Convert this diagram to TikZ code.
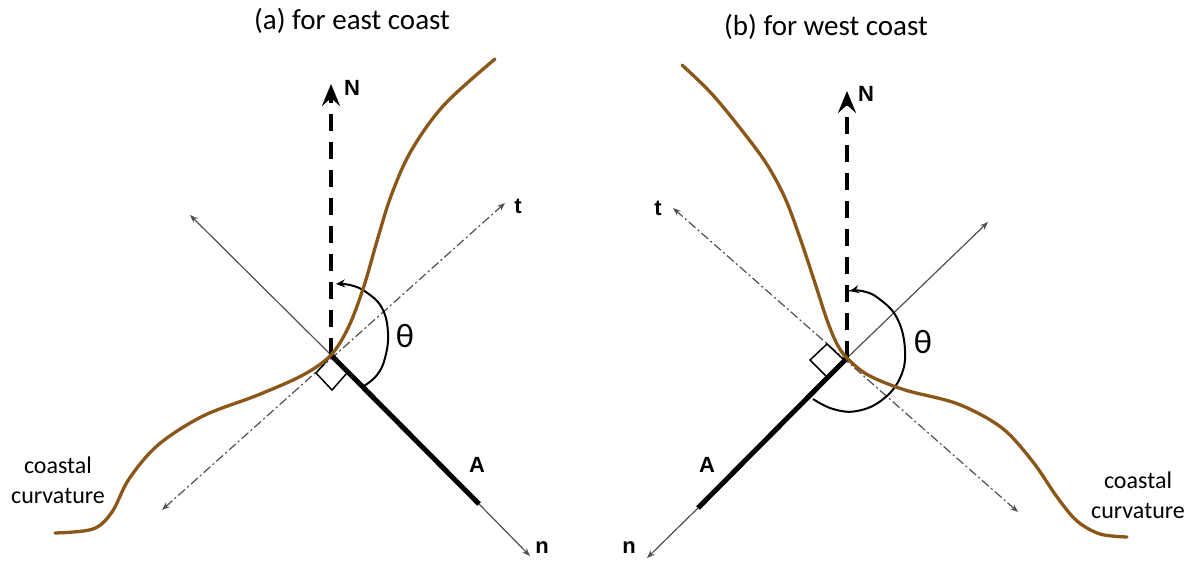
\documentclass[tikz,border=0pt]{standalone}
\usepackage{fontspec}
\setmainfont{Carlito}
\newfontfamily\labfont{Liberation Sans}
\usetikzlibrary{arrows.meta}
\definecolor{coastbrown}{RGB}{139,87,24}
\definecolor{thingray}{RGB}{80,80,80}
\begin{document}
\begin{tikzpicture}[x=1pt,y=-1pt,
  coastline/.style={draw=coastbrown, line width=3.3pt, line cap=round, line join=round},
  thinarrow/.style={draw=thingray, line width=1.2pt, -{Stealth[length=8pt,width=6pt]}},
  tdash/.style={draw=thingray, line width=1.2pt, dash pattern=on 9pt off 3pt on 2pt off 3pt, {Stealth[length=8pt,width=6pt]}-{Stealth[length=8pt,width=6pt]}},
  northarrow/.style={line width=3.5pt, dash pattern=on 17pt off 11pt, -{Stealth[length=22pt,width=18pt,inset=8pt]}},
  avec/.style={line width=5pt},
  rightangle/.style={draw=black, line width=1.5pt, line join=miter},
  anglearc/.style={line width=2pt, -{Stealth[length=9pt,width=8pt]}},
  lbl/.style={inner sep=0pt, font=\labfont\bfseries\fontsize{22}{26}\selectfont},
  titletext/.style={inner sep=0pt, font=\fontsize{29}{34}\selectfont},
  coasttext/.style={inner sep=0pt, align=center, font=\fontsize{24}{30}\selectfont},
  thetatext/.style={inner sep=0pt, font=\fontsize{34}{38}\selectfont}]
\useasboundingbox (0,0) rectangle (1193,561);

% titles
\node[titletext] (ta) at (352,21) {(a) for east coast};
\node[titletext] (tb) at (826,27) {(b) for west coast};

% ---------------- left panel ----------------
\coordinate (O1) at (331,355);
\coordinate (N1) at (331,84);
\coordinate (U1) at (190,215);
\coordinate (A1) at (479,504);
\coordinate (n1) at (530,556);
\coordinate (tA1) at (162,510);
\coordinate (tB1) at (505,203);

\draw[thinarrow] (O1) -- (U1);
\draw[tdash] (tA1) -- (tB1);
\draw[thinarrow] (A1) -- (n1);
\draw[avec] (O1) -- (A1);
\draw[northarrow] (O1) -- (N1);
\draw[rightangle] (331,356) -- (347,373) -- (332,390) -- (316,373) -- cycle;
\draw[anglearc] plot[smooth, tension=0.7] coordinates {(364,386) (377,375) (385,358) (388,333) (382,308) (366,292) (350,285) (336,284)};
\draw[coastline] plot[smooth, tension=0.55] coordinates {(55,533) (93,529) (112,512) (129,479) (158,445) (203,416) (258,395) (303,375) (331,355) (349,326) (364,286) (377,241) (391,196) (411,151) (444,105) (495,59)};

\node[lbl] (Nl1) at (352,88) {N};
\node[lbl] (tl1) at (518,206) {t};
\node[lbl] (Al1) at (477,465) {A};
\node[lbl] (nl1) at (542,548) {n};
\node[thetatext] (th1) at (405,336) {θ};
\node[coasttext] (cc1) at (58,480) {coastal\\curvature};

% ---------------- right panel ----------------
\coordinate (O2) at (847,358);
\coordinate (N2) at (847,91);
\coordinate (U2) at (988,222);
\coordinate (A2) at (698,508);
\coordinate (n2) at (647,558);
\coordinate (tA2) at (673,208);
\coordinate (tB2) at (1018,512);

\draw[thinarrow] (O2) -- (U2);
\draw[tdash] (tB2) -- (tA2);
\draw[thinarrow] (A2) -- (n2);
\draw[avec] (O2) -- (A2);
\draw[northarrow] (O2) -- (N2);
\draw[rightangle] (844,360) -- (827,344) -- (810,360) -- (827,377) -- cycle;
\draw[anglearc] plot[smooth, tension=0.7] coordinates {(813,399) (833,409) (857,411) (882,400) (900,378) (905,350) (897,318) (878,298) (862,291) (850,291)};
\draw[coastline] plot[smooth, tension=0.55] coordinates {(682,65) (711,93) (740,128) (766,163) (785,198) (800,238) (814,280) (827,320) (837,344) (847,358) (868,375) (905,390) (958,404) (1002,428) (1033,462) (1057,497) (1077,521) (1100,534) (1127,537)};

\node[lbl] (Nl2) at (866,94) {N};
\node[lbl] (tl2) at (658,208) {t};
\node[lbl] (Al2) at (707,465) {A};
\node[lbl] (nl2) at (629,548) {n};
\node[thetatext] (th2) at (923,342) {θ};
\node[coasttext] (cc2) at (1138,495) {coastal\\curvature};
\end{tikzpicture}
\end{document}
